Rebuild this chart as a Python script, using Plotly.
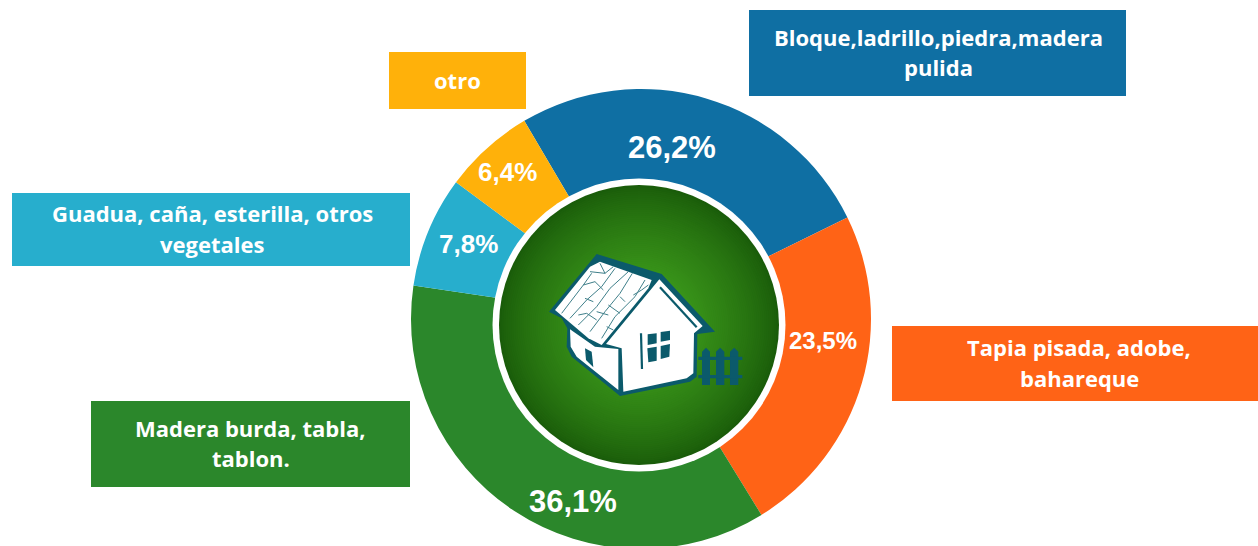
import plotly.graph_objects as go

categories = ["Bloque,ladrillo,piedra,madera<br>pulida", "Tapia pisada, adobe,<br>bahareque",
              "Madera burda, tabla,<br>tablon.", "Guadua, caña, esterilla, otros<br>vegetales", "otro"]
values = [26.2, 23.5, 36.1, 7.8, 6.4]
colors = ["#0F6FA3", "#FF6316", "#2B872B", "#27AECD", "#FFB10A"]
value_sizes = [31, 24, 31, 26, 26]
value_xy = [(672, 147), (823, 340), (573, 501), (468, 244), (507, 172)]
boxes = [(749, 10, 1126, 96), (892, 326, 1258, 401), (91, 401, 410, 487), (12, 193, 410, 266), (389, 52, 526, 109)]
text_dx = [1, 4, 0, 1, 0]

W, H = 1258, 600
TEAL = "#0B5A6B"
px = lambda x: x / W
py = lambda y: 1 - y / H

def zpath(points, close=True):
    pts = [(px(480 + x / 3), py(170 + y / 3)) for x, y in points]
    return "M" + " L".join(f"{a:.5f},{b:.5f}" for a, b in pts) + (" Z" if close else "")

shapes = []
def poly(points, fill=TEAL):
    shapes.append(dict(type="path", xref="paper", yref="paper", path=zpath(points), fillcolor=fill, line=dict(width=0), layer="above"))
def stroke(points, width=1.0, color=TEAL):
    shapes.append(dict(type="path", xref="paper", yref="paper", path=zpath(points, False), line=dict(color=color, width=width), layer="above"))
def circle(cx, cy, r, fill):
    shapes.append(dict(type="circle", xref="paper", yref="paper", x0=px(cx - r), x1=px(cx + r), y0=py(cy + r), y1=py(cy - r),
                       fillcolor=fill, line=dict(width=0), layer="above"))

for i, (x0, y0, x1, y1) in enumerate(boxes):
    shapes.append(dict(type="rect", xref="paper", yref="paper", x0=px(x0), x1=px(x1), y0=py(y1), y1=py(y0),
                       fillcolor=colors[i], line=dict(width=0), layer="above"))

# centre medallion
circle(639, 325, 146.5, "#FFFFFF")
inner = (70, 172, 32)
outer = (26, 92, 10)
steps = 70
for s in range(steps):
    t = s / (steps - 1)
    e = t ** 0.8
    c = tuple(round(outer[k] + (inner[k] - outer[k]) * e) for k in range(3))
    circle(639, 325, 139 * (1 - t) + 1, f"rgb{c}")

# house icon
poly([(207, 425), (350, 252), (545, 312), (705, 485), (652, 492), (650, 620), (630, 635), (420, 678), (275, 560), (260, 530), (262, 475), (245, 445)])
poly([(270, 478), (345, 530), (415, 537), (415, 660), (290, 560), (272, 530)], "#FFFFFF")
poly([(378, 522), (538, 328), (668, 468), (642, 490), (640, 610), (620, 625), (430, 665), (425, 535)], "#FFFFFF")
poly([(225, 420), (330, 290), (360, 275), (515, 330), (505, 355), (365, 525), (325, 505)], "#FFFFFF")
stroke([(540, 352), (650, 472)], 2.2)
poly([(315, 535), (335, 545), (340, 592), (318, 570)])
stroke([(483, 490), (486, 597)], 2.2)
poly([(503, 493), (530, 490), (530, 520), (503, 525)])
poly([(542, 486), (570, 482), (570, 510), (542, 515)])
poly([(502, 535), (530, 530), (530, 572), (505, 577)])
poly([(542, 528), (570, 522), (568, 560), (542, 567)])
for a, b in [(666, 690), (708, 733), (750, 775)]:
    poly([(a, 545), ((a + b) / 2, 533), (b, 545), (b, 645), (a, 645)])
poly([(655, 560), (787, 560), (787, 570), (655, 570)])
poly([(655, 615), (787, 615), (787, 625), (655, 625)])
stones = [[(50, 190), (115, 105), (140, 70)], [(75, 205), (125, 150), (170, 110), (210, 55)],
          [(100, 225), (155, 170), (195, 115), (250, 65)], [(135, 245), (180, 185), (225, 130), (262, 70)],
          [(170, 265), (210, 200), (270, 140), (300, 90)], [(115, 105), (150, 95), (175, 120)],
          [(135, 65), (180, 70), (205, 50)], [(165, 40), (180, 70)], [(120, 145), (145, 155)],
          [(100, 195), (125, 190), (155, 210)], [(155, 185), (190, 195)], [(190, 165), (225, 190)],
          [(225, 140), (240, 155)], [(185, 230), (205, 240)], [(265, 135), (290, 120), (310, 105)]]
for seg in stones:
    stroke([(x + 195, y + 240) for x, y in seg], 1.0, "#3F7F8A")

annotations = []
for v, s, (x, y) in zip(values, value_sizes, value_xy):
    annotations.append(dict(xref="paper", yref="paper", x=px(x), y=py(y), xanchor="center", yanchor="middle", showarrow=False,
                            text=f"{v:.1f}%".replace(".", ","),
                            font=dict(family="Liberation Sans", size=s, color="#FFFFFF", weight="bold")))
for c, (x0, y0, x1, y1), dx in zip(categories, boxes, text_dx):
    lines = c.split("<br>")
    ym = (y0 + y1) / 2 - 1
    for j, line in enumerate(lines):
        annotations.append(dict(xref="paper", yref="paper", x=px((x0 + x1) / 2 + dx), y=py(ym + (j - (len(lines) - 1) / 2) * 30.5),
                                xanchor="center", yanchor="middle", showarrow=False, text=line, align="center",
                                font=dict(family="Open Sans", size=22, color="#FFFFFF", weight="bold")))

fig = go.Figure(go.Pie(values=values, labels=[c.replace("<br>", " ") for c in categories], marker=dict(colors=colors, line=dict(width=0)),
                       hole=0.6, sort=False, direction="clockwise", rotation=-30.5, textinfo="none", showlegend=False,
                       domain=dict(x=[px(411), px(871)], y=[py(549), py(89)])))
fig.update_layout(width=W, height=H, margin=dict(l=0, r=0, t=0, b=0), paper_bgcolor="#FFFFFF", shapes=shapes, annotations=annotations)
fig.write_html("out.html", config=dict(displayModeBar=False),
               post_script="document.documentElement.style.overflow='hidden';document.body.style.overflow='hidden';document.body.style.margin='0';")
